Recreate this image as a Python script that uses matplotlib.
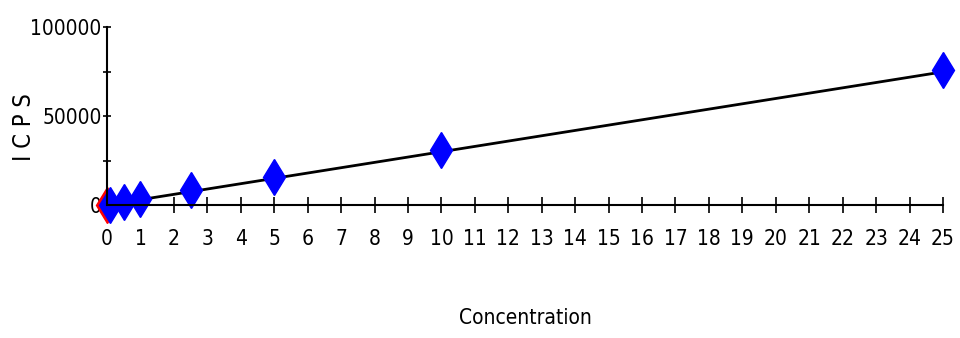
import numpy as np
import matplotlib.pyplot as plt

conc = [0.1, 0.5, 1, 2.5, 5, 10, 25]
icps = [0, 1600, 3200, 8400, 15700, 30900, 75800]
blank_conc = [0]
blank_icps = [0]
fit_x = [0, 25]
fit_y = [0, 74800]

xticks = list(range(0, 26))
yticks = [0, 25000, 50000, 75000, 100000]
ylabels = ['0', '', '50000', '', '100000']

plt.rcParams['font.family'] = ['DejaVu Sans']
plt.rcParams['font.stretch'] = 'condensed'

fig = plt.figure(figsize=(9.6, 3.38), dpi=100)
ax = fig.add_axes([107/960, 133/338, 836/960, 178/338])

ax.plot(fit_x, fit_y, '-', color='black', lw=2, zorder=2)
ax.plot(blank_conc, blank_icps, 'd', color='red', ms=18, mec='red', clip_on=False, zorder=3)
ax.plot(conc, icps, 'd', color='blue', ms=18, mec='blue', clip_on=False, zorder=4)

ax.set_xlim(0, 25)
ax.set_ylim(0, 100000)
for s in ['top', 'right']:
    ax.spines[s].set_visible(False)
for s in ['left', 'bottom']:
    ax.spines[s].set_linewidth(1.5)
    ax.spines[s].set_zorder(5)

ax.set_xticks(xticks)
ax.set_xticklabels([str(t) for t in xticks], fontsize=15)
ax.set_yticks(yticks)
ax.set_yticklabels(ylabels, fontsize=15)
ax.tick_params(axis='x', direction='inout', length=12, width=1.2, pad=11)
ax.tick_params(axis='y', direction='inout', length=6, width=1.2, pad=1)

ax.set_xlabel('Concentration', fontsize=15)
ax.xaxis.set_label_coords(0.5, -0.58)
ax.set_ylabel('I C P S', fontsize=17)
ax.yaxis.set_label_coords(-0.085, 0.44)

fig.savefig('out.png', dpi=100)
